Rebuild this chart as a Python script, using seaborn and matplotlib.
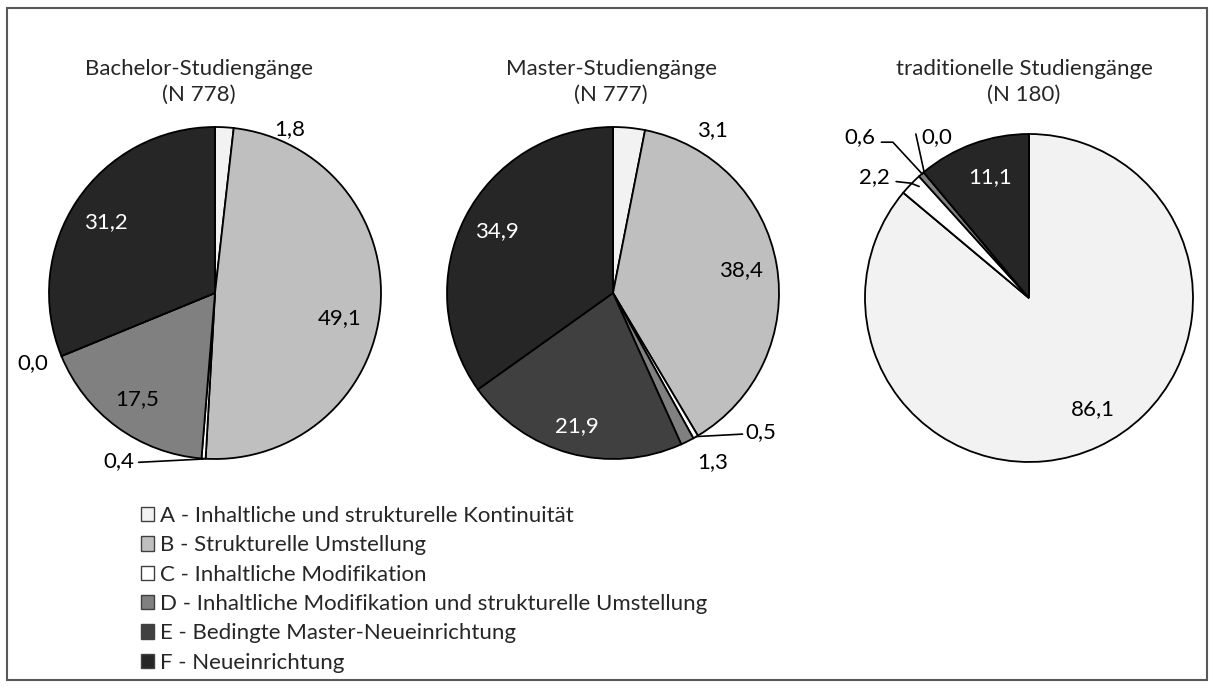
import numpy as np
import matplotlib
matplotlib.use("Agg")
import matplotlib.pyplot as plt
import seaborn as sns
from matplotlib.patches import Rectangle, Patch

sns.set_theme(style="white")
plt.rcParams['font.family'] = ['Lato', 'DejaVu Sans']

# data
categories = ["A - Inhaltliche und strukturelle Kontinuität",
              "B - Strukturelle Umstellung",
              "C - Inhaltliche Modifikation",
              "D - Inhaltliche Modifikation und strukturelle Umstellung",
              "E - Bedingte Master-Neueinrichtung",
              "F - Neueinrichtung"]
titles = ["Bachelor-Studiengänge\n(N 778)",
          "Master-Studiengänge\n(N 777)",
          "traditionelle Studiengänge\n(N 180)"]
bachelor = [1.8, 49.1, 0.4, 17.5, 0.0, 31.2]
master = [3.1, 38.4, 0.5, 1.3, 21.9, 34.9]
traditional = [86.1, 0.0, 2.2, 0.6, 0.0, 11.1]
# which slices carry a label (traditional B has none)
shown = [[1, 1, 1, 1, 1, 1], [1, 1, 1, 1, 1, 1], [1, 0, 1, 1, 1, 1]]

colors = ["#f2f2f2", "#bfbfbf", "#ffffff", "#808080", "#404040", "#262626"]
text_colors = ["black", "black", "black", "black", "white", "white"]

W, H = 1215, 688
fig = plt.figure(figsize=(W / 100, H / 100), dpi=100)

# pie layout in pixels: center x, center y, radius
layout = [(215, 293, 166), (613, 293, 166), (1029, 298, 164)]
title_x = [199, 611, 1024]

# label placement in units of the radius; optional leader line (list of points)
label_pos = [
    [((0.45, 0.99), None), ((0.75, -0.15), None),
     ((-0.58, -1.01), [(-0.46, -1.02), (-0.07, -1.0)]),
     ((-0.47, -0.64), None), ((-1.10, -0.42), None), ((-0.66, 0.43), None)],
    [((0.60, 0.98), None), ((0.77, 0.14), None),
     ((0.89, -0.84), [(0.78, -0.85), (0.50, -0.865)]),
     ((0.60, -1.02), None), ((-0.22, -0.80), None), ((-0.70, 0.37), None)],
    [((0.39, -0.68), None), None,
     ((-0.94, 0.74), [(-0.81, 0.71), (-0.72, 0.70), (-0.67, 0.68)]),
     ((-1.03, 0.98), [(-0.90, 0.95), (-0.83, 0.95), (-0.65, 0.755)]),
     ((-0.56, 0.98), [(-0.69, 1.0), (-0.64, 0.77)]),
     ((-0.24, 0.74), None)],
]

s = 1.3
for i, vals in enumerate([bachelor, master, traditional]):
    cx, cy, r = layout[i]
    sp = s * r
    ax = fig.add_axes([(cx - sp) / W, (H - cy - sp) / H, 2 * sp / W, 2 * sp / H])
    ax.pie(vals, colors=colors, startangle=90, counterclock=False,
           wedgeprops=dict(edgecolor="black", linewidth=1.3))
    ax.set_xlim(-s, s)
    ax.set_ylim(-s, s)
    ax.set_aspect("equal")
    ax.axis("off")
    for j, v in enumerate(vals):
        if not shown[i][j] or label_pos[i][j] is None:
            continue
        (lx, ly), line = label_pos[i][j]
        inside = np.hypot(lx, ly) < 0.95
        ax.text(lx, ly, f"{v:.1f}".replace(".", ","), ha="center", va="center",
                fontsize=16, color=text_colors[j] if inside else "black")
        if line:
            xs, ys = zip(*line)
            ax.plot(xs, ys, color="black", lw=1.2, clip_on=False)
    fig.text(title_x[i] / W, 1 - 82 / H, titles[i],
             ha="center", va="center", fontsize=16, linespacing=1.35)

handles = [Patch(facecolor=c, edgecolor="#404040", linewidth=1) for c in colors]
fig.legend(handles, categories, loc="upper left", bbox_to_anchor=(141 / W, 1 - 506 / H),
           frameon=False, fontsize=16, handlelength=0.6, handleheight=0.6,
           handletextpad=0.25, labelspacing=0.42, borderaxespad=0, borderpad=0)

fig.patches.append(Rectangle((7 / W, 8 / H), 1200 / W, 672 / H, transform=fig.transFigure,
                             fill=False, edgecolor="#595959", linewidth=1.5))

fig.savefig("out.png", dpi=100)
